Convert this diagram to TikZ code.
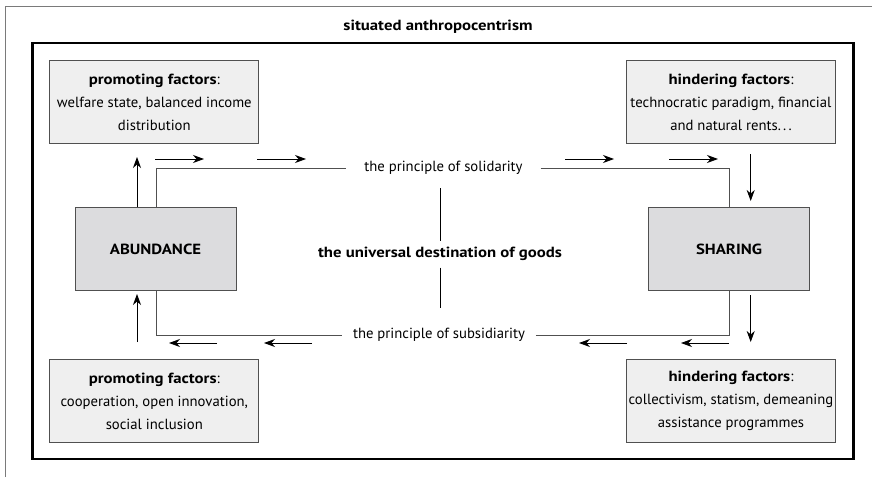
\documentclass[tikz,border=0pt]{standalone}
\usepackage{fontspec}
\setmainfont{PT Sans}[BoldFeatures={FakeStretch=1.14}]
\usetikzlibrary{arrows.meta}
\definecolor{framegray}{HTML}{7A7A7A}
\definecolor{linegray}{HTML}{505050}
\definecolor{factorfill}{HTML}{EFEFEF}
\definecolor{corefill}{HTML}{DCDCDE}
\newcommand{\spaceddots}{.\kern2.2pt.\kern2.2pt.}
\begin{document}
\begin{tikzpicture}[x=1pt,y=-1pt,
  font=\fontsize{14.7}{23}\selectfont,
  factor/.style={draw=linegray, line width=0.8pt, fill=factorfill,
    minimum width=209pt, minimum height=83pt, align=center, inner sep=0pt},
  core/.style={draw=linegray, line width=0.8pt, fill=corefill,
    minimum width=161pt, minimum height=83pt, font=\fontsize{14.7}{16}\selectfont\bfseries},
  loop/.style={draw=linegray, line width=0.8pt},
  flow/.style={line width=0.8pt, -{Stealth[length=11pt,width=8pt,inset=3.5pt]}},
  label/.style={inner sep=0pt, outer sep=0pt}
]
\useasboundingbox (0,0) rectangle (872,477);

% outer frame (partly cut off) and title
\draw[framegray, line width=0.9pt] (5.5,477) -- (5.5,6.5) -- (872,6.5);
\node[label, font=\fontsize{14.7}{16}\selectfont\bfseries] (title) at (438,27) {situated anthropocentrism};

% inner frame
\draw[black, line width=2.4pt] (32.5,43) rectangle (853.5,459);

% factor boxes
\node[factor] (ptop) at (154.3,102.3) {\textbf{promoting factors}:\\welfare state, balanced income\\distribution};
\node[factor] (htop) at (731,102.3) {\textbf{hindering factors}:\\technocratic paradigm, financial\\and natural rents\spaceddots};
\node[factor] (pbot) at (154.3,401) {\textbf{promoting factors}:\\cooperation, open innovation,\\social inclusion};
\node[factor] (hbot) at (731,401) {\textbf{hindering factors}:\\collectivism, statism, demeaning\\assistance programmes};

% core boxes
\node[core] (abund) at (155.5,249.2) {ABUNDANCE};
\node[core] (share) at (729,249.2) {SHARING};

% principles and the central idea
\node[label, inner xsep=18pt, minimum height=40pt] (sol) at (443.5,168) {the principle of solidarity};
\node[label, inner xsep=11pt, minimum height=54pt] (subs) at (439,335) {the principle of subsidiarity};
\node[label, minimum height=27pt, font=\fontsize{14.7}{16}\selectfont\bfseries] (univ) at (440,254) {the universal destination of goods};

% the loop connecting the two core boxes
\coordinate (loopL) at (156,0);
\coordinate (loopR) at (729,0);
\draw[loop] (abund.north -| loopL) |- (sol.west);
\draw[loop] (sol.east) -| (share.north -| loopR);
\draw[loop] (abund.south -| loopL) |- (subs.west);
\draw[loop] (subs.east) -| (share.south -| loopR);

% link from the principles to the central idea
\draw[line width=0.8pt] (univ.north |- sol.south) -- (univ.north);
\draw[line width=0.8pt] (univ.south) -- (univ.south |- subs.north);

% direction arrows along the upper path
\coordinate (t1a) at (155,159); \coordinate (t1b) at (204,159);
\coordinate (t2a) at (257,159); \coordinate (t2b) at (306,159);
\coordinate (t3a) at (565,159); \coordinate (t3b) at (614,159);
\coordinate (t4a) at (669,159); \coordinate (t4b) at (718,159);
\draw[flow] (t1a) -- (t1b);
\draw[flow] (t2a) -- (t2b);
\draw[flow] (t3a) -- (t3b);
\draw[flow] (t4a) -- (t4b);

% direction arrows along the lower path
\coordinate (b1a) at (217,343); \coordinate (b1b) at (169,343);
\coordinate (b2a) at (312,343); \coordinate (b2b) at (264,343);
\coordinate (b3a) at (627,343); \coordinate (b3b) at (579,343);
\coordinate (b4a) at (729,343); \coordinate (b4b) at (681,343);
\draw[flow] (b1a) -- (b1b);
\draw[flow] (b2a) -- (b2b);
\draw[flow] (b3a) -- (b3b);
\draw[flow] (b4a) -- (b4b);

% vertical arrows between factor and core boxes
\coordinate (ua1) at (137,207); \coordinate (ua2) at (137,157);
\coordinate (ub1) at (137,342); \coordinate (ub2) at (137,294);
\coordinate (da1) at (750.7,154); \coordinate (da2) at (750.7,201);
\coordinate (db1) at (750.7,295); \coordinate (db2) at (750.7,342);
\draw[flow] (ua1) -- (ua2);
\draw[flow] (ub1) -- (ub2);
\draw[flow] (da1) -- (da2);
\draw[flow] (db1) -- (db2);
\end{tikzpicture}
\end{document}
